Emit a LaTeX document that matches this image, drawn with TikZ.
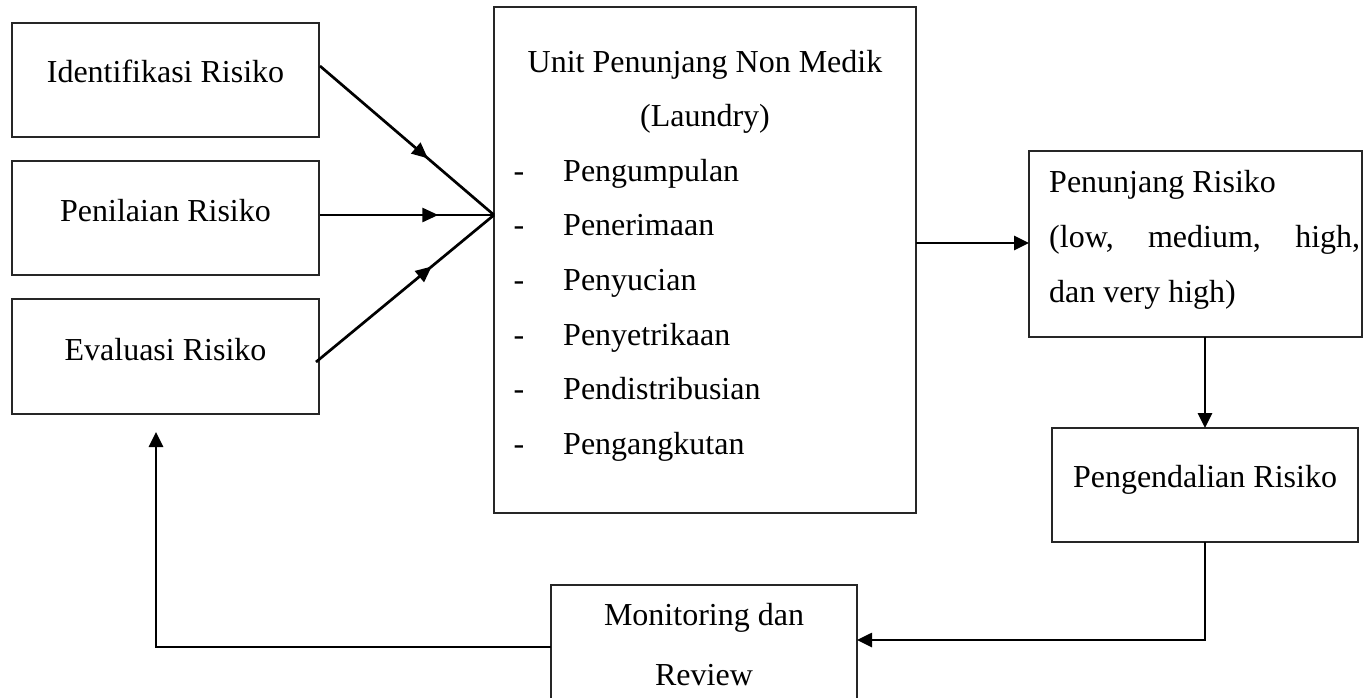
\documentclass[tikz,border=0pt]{standalone}
\usepackage{fontspec}
\setmainfont{Liberation Serif}
\usetikzlibrary{arrows.meta,decorations.markings}
\begin{document}
\begin{tikzpicture}[x=1pt,y=-1pt,
  box/.style={draw=black!85, line width=1.3pt, inner sep=0pt, outer sep=0pt, anchor=north west},
  txt/.style={font=\fontsize{32}{54.6}\selectfont, inner sep=0pt, anchor=base},
  txtl/.style={txt, anchor=base west},
  conn/.style={line width=2.7pt, draw=black},
  tip/.style={-{Triangle[length=15pt,width=14pt]}},
  midtip/.style={postaction={decorate}, decoration={markings, mark=at position #1 with {\arrow{Triangle[length=16pt,width=14pt]}}}}
]
\useasboundingbox (0,0) rectangle (1364,697);
\fill[white] (0,0) rectangle (1364,697);

% boxes
\node[box, minimum width=307pt, minimum height=114pt] (idf) at (12,23) {};
\node[box, minimum width=307pt, minimum height=114pt] (pen) at (12,161) {};
\node[box, minimum width=307pt, minimum height=115pt] (eva) at (12,299) {};
\node[box, minimum width=422pt, minimum height=506pt] (unit) at (494,7) {};
\node[box, minimum width=333pt, minimum height=186pt] (pnj) at (1029,151) {};
\node[box, minimum width=306pt, minimum height=114pt] (pgd) at (1052,428) {};
\node[box, minimum width=306pt, minimum height=140pt] (mon) at (551,585) {};

% texts
\node[txt] (tidf) at (165.5,82) {Identifikasi Risiko};
\node[txt] (tpen) at (165.5,221) {Penilaian Risiko};
\node[txt] (teva) at (165.5,360) {Evaluasi Risiko};

\node[txt] (tu1) at (705,72) {Unit Penunjang Non Medik};
\node[txt] (tu2) at (705,126.6) {(Laundry)};
\foreach \t [count=\i from 0] in {Pengumpulan,Penerimaan,Penyucian,Penyetrikaan,Pendistribusian,Pengangkutan}{
  \node[txt] (d\i) at (519,181.2+54.6*\i) {-};
  \node[txtl] (it\i) at (563,181.2+54.6*\i) {\t};
}

\node[txtl] (tp1) at (1049,192) {Penunjang Risiko};
\node[txtl] (tp2) at (1049,247) {\makebox[311pt][s]{(low,\hfill medium,\hfill high,}};
\node[txtl] (tp3) at (1049,302) {dan very high)};

\node[txt] (tpg) at (1205,487) {Pengendalian Risiko};
\node[txt] (tm1) at (704,625) {Monitoring dan};
\node[txt] (tm2) at (704,685) {Review};

% connectors
\coordinate (conv) at (494,215);
\coordinate (s1) at (320,66);
\coordinate (s2) at (320,215);
\coordinate (s3) at (316,362);
\draw[conn, midtip=0.62] (s1) -- (conv);
\draw[conn, midtip=0.68] (s2) -- (conv);
\draw[conn, midtip=0.65] (s3) -- (conv);

\coordinate (u1) at (916,243);
\coordinate (p1) at (1029,243);
\draw[conn, tip] (u1) -- (p1);

\draw[conn, tip] (pgd.north |- pnj.south) -- (pgd.north);

\coordinate (m1) at (857,640);
\draw[conn, tip] (pgd.south) |- (m1);

\coordinate (m2) at (551,647);
\coordinate (e1) at (156,432);
\draw[conn, tip] (m2) -| (e1);
\end{tikzpicture}
\end{document}
